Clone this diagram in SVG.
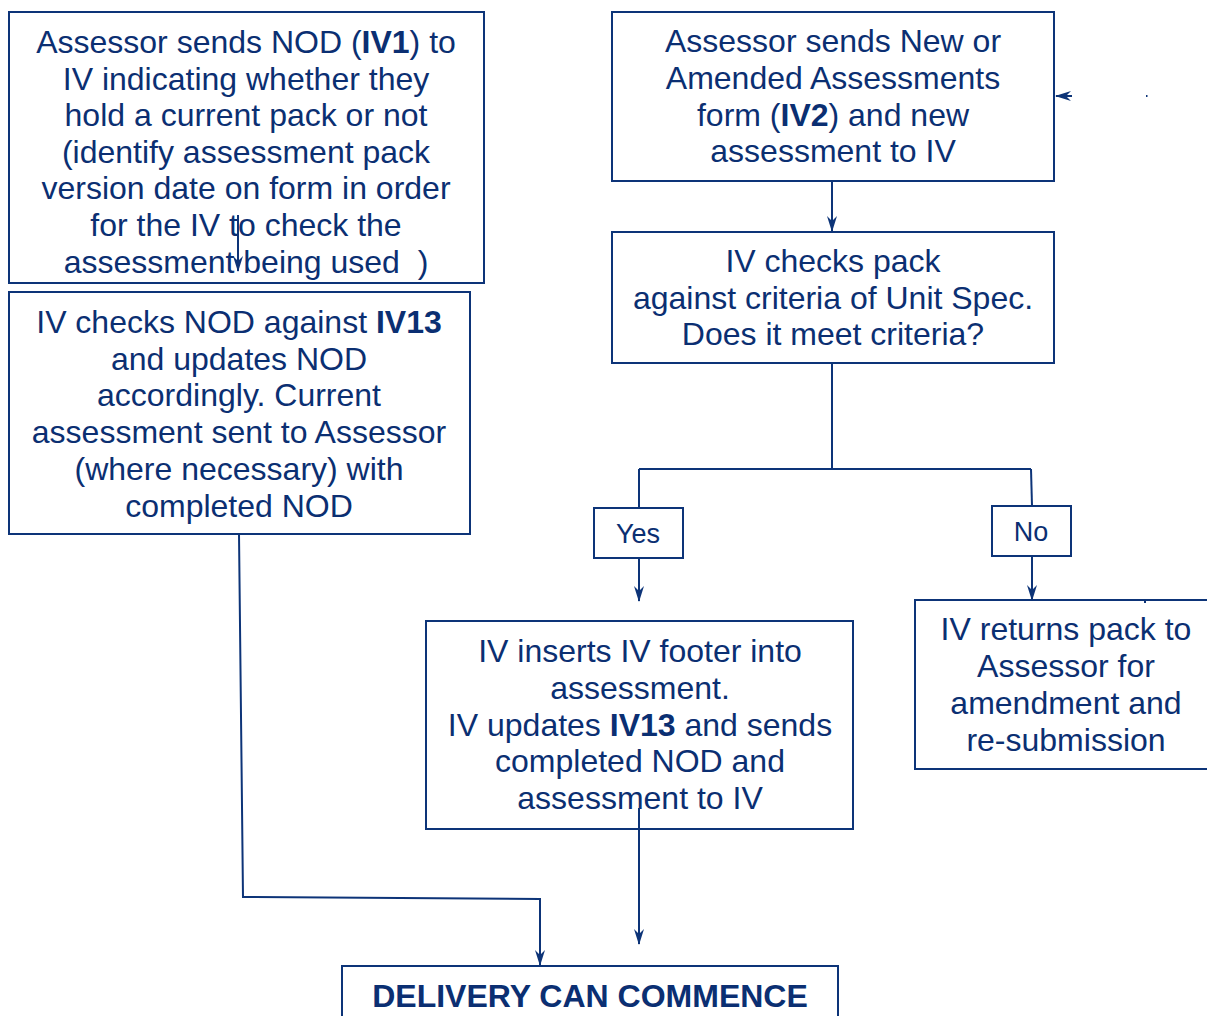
<svg xmlns="http://www.w3.org/2000/svg" width="1207" height="1016" viewBox="0 0 1207 1016">
<style>
.box{fill:#fff;stroke:#0d3478;stroke-width:2}
.t{font-family:"Liberation Sans",Arial,sans-serif;font-size:32px;fill:#0b2f72;text-anchor:middle}
.s{font-size:27px}
.b{font-weight:bold}
.c{fill:none;stroke:#0d3478;stroke-width:2}
</style>
<defs>
<marker id="ah" viewBox="0 0 16 10" refX="15" refY="5" markerWidth="16" markerHeight="10" markerUnits="userSpaceOnUse" orient="auto">
<path d="M0,0 L16,5 L0,10 L5,5 Z" fill="#0d3478"/>
</marker>
</defs>
<rect width="1207" height="1016" fill="#fff"/>
<g id="n1">
<rect class="box" x="9" y="12" width="475" height="271"/>
<text class="t" x="246" y="53">Assessor sends NOD (<tspan class="b">IV1</tspan>) to</text>
<text class="t" x="246" y="90">IV indicating whether they</text>
<text class="t" x="246" y="126">hold a current pack or not</text>
<text class="t" x="246" y="163">(identify assessment pack</text>
<text class="t" x="246" y="199">version date on form in order</text>
<text class="t" x="246" y="236">for the IV to check the</text>
<text class="t" x="246" y="273">assessment being used &#160;)</text>
</g>
<g id="n2">
<rect class="box" x="9" y="292" width="461" height="242"/>
<text class="t" x="239" y="333">IV checks NOD against <tspan class="b">IV13</tspan></text>
<text class="t" x="239" y="370">and updates NOD</text>
<text class="t" x="239" y="406">accordingly. Current</text>
<text class="t" x="239" y="443">assessment sent to Assessor</text>
<text class="t" x="239" y="480">(where necessary) with</text>
<text class="t" x="239" y="517">completed NOD</text>
</g>
<g id="n3">
<rect class="box" x="612" y="12" width="442" height="169"/>
<text class="t" x="833" y="52">Assessor sends New or</text>
<text class="t" x="833" y="89">Amended Assessments</text>
<text class="t" x="833" y="126">form (<tspan class="b">IV2</tspan>) and new</text>
<text class="t" x="833" y="162">assessment to IV</text>
</g>
<g id="n4">
<rect class="box" x="612" y="232" width="442" height="131"/>
<text class="t" x="833" y="272">IV checks pack</text>
<text class="t" x="833" y="309">against criteria of Unit Spec.</text>
<text class="t" x="833" y="345">Does it meet criteria?</text>
</g>
<g id="yes">
<rect class="box" x="594" y="508" width="89" height="50"/>
<text class="t s" x="638" y="543">Yes</text>
</g>
<g id="no">
<rect class="box" x="992" y="506" width="79" height="50"/>
<text class="t s" x="1031" y="541">No</text>
</g>
<g id="n5">
<rect class="box" x="426" y="621" width="427" height="208"/>
<text class="t" x="640" y="662">IV inserts IV footer into</text>
<text class="t" x="640" y="699">assessment.</text>
<text class="t" x="640" y="736">IV updates <tspan class="b">IV13</tspan> and sends</text>
<text class="t" x="640" y="772">completed NOD and</text>
<text class="t" x="640" y="809">assessment to IV</text>
</g>
<g id="n6">
<rect class="box" x="915" y="600" width="300" height="169"/>
<text class="t" x="1066" y="640">IV returns pack to</text>
<text class="t" x="1066" y="677">Assessor for</text>
<text class="t" x="1066" y="714">amendment and</text>
<text class="t" x="1066" y="751">re-submission</text>
</g>
<g id="n7">
<rect class="box" x="342" y="966" width="496" height="60"/>
<text class="t b" x="590" y="1007">DELIVERY CAN COMMENCE</text>
</g>
<g id="connectors">
<path class="c" d="M832,181 V231" marker-end="url(#ah)"/>
<path class="c" d="M832,363 V469 M639,469 H1031"/>
<path class="c" d="M639,469 V508"/>
<path class="c" d="M1031,469 L1032,506"/>
<path class="c" d="M639,558 V601" marker-end="url(#ah)"/>
<path class="c" d="M1032,556 V600" marker-end="url(#ah)"/>
<path class="c" d="M239,534 L243,897 L540,899 V965" marker-end="url(#ah)"/>
<path class="c" d="M639,808 V944" marker-end="url(#ah)"/>
<path class="c" d="M238,215 V271" marker-end="url(#ah)"/>
<path class="c" d="M1072,96 H1056" marker-end="url(#ah)"/>
<rect x="1146" y="95" width="1.5" height="2" fill="#0d3478"/>
<rect x="1144" y="600" width="2" height="3" fill="#0d3478"/>
</g>
</svg>
